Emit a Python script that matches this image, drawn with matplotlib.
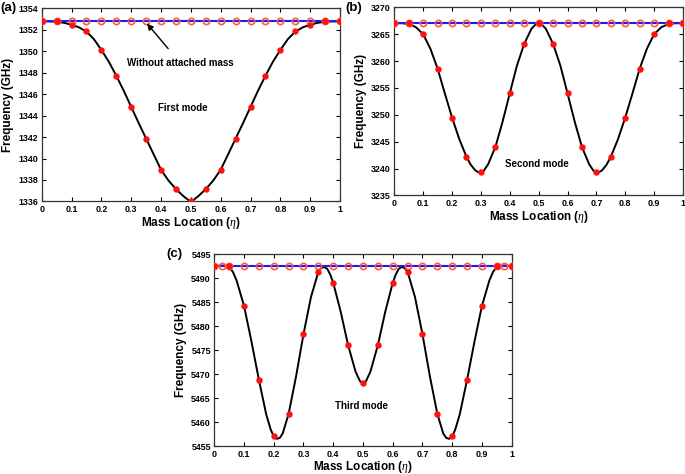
import matplotlib
matplotlib.use("Agg")
import matplotlib.pyplot as plt

plt.rcParams['font.family'] = ['Liberation Sans', 'DejaVu Sans']
plt.rcParams['mathtext.fontset'] = 'custom'
plt.rcParams['mathtext.it'] = 'Liberation Serif:italic'

# ---------------- data ----------------
eta_dots = [0, 0.05, 0.1, 0.15, 0.2, 0.25, 0.3, 0.35, 0.4, 0.45, 0.5,
            0.55, 0.6, 0.65, 0.7, 0.75, 0.8, 0.85, 0.9, 0.95, 1.0]
eta_curve = [0, 0.025, 0.05, 0.075, 0.1, 0.125, 0.15, 0.175, 0.2, 0.225, 0.25,
             0.275, 0.3, 0.325, 0.35, 0.375, 0.4, 0.425, 0.45, 0.475, 0.5,
             0.525, 0.55, 0.575, 0.6, 0.625, 0.65, 0.675, 0.7, 0.725, 0.75,
             0.775, 0.8, 0.825, 0.85, 0.875, 0.9, 0.925, 0.95, 0.975, 1.0]

# Mode 1
f1_ref = 1352.75
f1_dots = [1352.75, 1352.75, 1352.45, 1351.85, 1350.1, 1347.7, 1344.8, 1341.85, 1338.95, 1337.15, 1336.0,
           1337.15, 1338.95, 1341.85, 1344.8, 1347.7, 1350.1, 1351.85, 1352.45, 1352.75, 1352.75]
f1_curve = [1352.75, 1352.75, 1352.72, 1352.62, 1352.45, 1352.2, 1351.8, 1351.1, 1350.1, 1349.0, 1347.7,
            1346.3, 1344.8, 1343.3, 1341.85, 1340.4, 1338.95, 1337.95, 1337.15, 1336.5, 1335.95,
            1336.5, 1337.15, 1337.95, 1338.95, 1340.4, 1341.85, 1343.3, 1344.8, 1346.3, 1347.7,
            1349.0, 1350.1, 1351.1, 1351.8, 1352.2, 1352.45, 1352.62, 1352.72, 1352.75, 1352.75]

# Mode 2
f2_ref = 3267.0
eta2_curve = [0, 0.025, 0.05, 0.075, 0.1, 0.125, 0.15, 0.175, 0.2, 0.225, 0.25,
              0.265, 0.28, 0.29, 0.3, 0.31, 0.325, 0.35, 0.375, 0.4, 0.425, 0.45, 0.475, 0.49, 0.5,
              0.51, 0.525, 0.55, 0.575, 0.6, 0.625, 0.65, 0.675, 0.69, 0.7, 0.71, 0.72, 0.735, 0.75,
              0.775, 0.8, 0.825, 0.85, 0.875, 0.9, 0.925, 0.95, 0.975, 1.0]
f2_dots = [3267.0, 3267.0, 3265.0, 3258.6, 3249.5, 3242.2, 3239.4, 3244.0, 3254.0, 3263.2, 3267.0,
           3263.2, 3254.0, 3244.0, 3239.4, 3242.2, 3249.5, 3258.6, 3265.0, 3267.0, 3267.0]
f2_curve = [3267.0, 3267.05, 3266.9, 3266.3, 3265.0, 3262.3, 3258.6, 3254.0, 3249.5, 3245.5, 3242.2,
            3240.7, 3239.7, 3239.35, 3239.3, 3239.6, 3240.8, 3244.0, 3248.7, 3254.0, 3259.2, 3263.2, 3266.0, 3266.85, 3267.0,
            3266.85, 3266.0, 3263.2, 3259.2, 3254.0, 3248.7, 3244.0, 3240.8, 3239.6, 3239.3, 3239.35, 3239.7, 3240.7, 3242.2,
            3245.5, 3249.5, 3254.0, 3258.6, 3262.3, 3265.0, 3266.3, 3266.9, 3267.05, 3267.0]

# Mode 3
f3_ref = 5492.5
eta3_ref = [0, 0.025, 0.05, 0.1, 0.15, 0.2, 0.25, 0.3, 0.35, 0.4, 0.45, 0.5,
            0.55, 0.6, 0.65, 0.7, 0.75, 0.8, 0.85, 0.9, 0.95, 0.975, 1.0]
f3_dots = [5492.5, 5492.5, 5484.2, 5468.8, 5457.0, 5461.7, 5478.3, 5491.3, 5489.0, 5476.0, 5468.2,
           5476.0, 5489.0, 5491.3, 5478.3, 5461.7, 5457.0, 5468.8, 5484.2, 5492.5, 5492.5]
eta3_curve = [0, 0.025, 0.04, 0.05, 0.0625, 0.075, 0.1, 0.125, 0.15, 0.175, 0.19, 0.2, 0.21, 0.22, 0.23, 0.25,
              0.275, 0.3, 0.325, 0.35, 0.36, 0.37, 0.38, 0.39, 0.4, 0.425, 0.45, 0.475, 0.49, 0.5,
              0.51, 0.525, 0.55, 0.575, 0.6, 0.61, 0.62, 0.63, 0.64, 0.65, 0.675, 0.7, 0.725, 0.75,
              0.77, 0.78, 0.79, 0.8, 0.81, 0.825, 0.85, 0.875, 0.9, 0.925, 0.9375, 0.95, 0.96, 0.975, 1.0]
f3_curve = [5492.5, 5492.6, 5492.55, 5492.3, 5491.3, 5489.5, 5484.2, 5476.8, 5468.8, 5461.5, 5458.4, 5457.0, 5456.5, 5456.7, 5457.6, 5461.7,
            5469.5, 5478.3, 5486.0, 5491.3, 5492.1, 5492.3, 5491.9, 5490.7, 5489.0, 5483.0, 5476.0, 5470.5, 5468.5, 5468.1,
            5468.5, 5470.5, 5476.0, 5483.0, 5489.0, 5490.7, 5491.9, 5492.3, 5492.1, 5491.3, 5486.0, 5478.3, 5469.5, 5461.7,
            5457.6, 5456.7, 5456.5, 5457.0, 5458.4, 5461.5, 5468.8, 5476.8, 5484.2, 5489.5, 5491.3, 5492.3, 5492.55, 5492.6, 5492.5]

panels = [
    dict(label='(a)', label_px=(0, 8), rect=[0.0609, 0.5749, 0.4355, 0.4082], ylim=(1336, 1354),
         yticks=list(range(1336, 1355, 2)),
         ref=f1_ref, ref_x=eta_dots, dots=f1_dots, curve_x=eta_curve, curve=f1_curve,
         mode='First mode', mode_xy=(0.474, 1344.7)),
    dict(label='(b)', label_px=(345, 8), rect=[0.5756, 0.5876, 0.4215, 0.3970], ylim=(3235, 3270),
         yticks=list(range(3235, 3271, 5)),
         ref=f2_ref, ref_x=eta_dots, dots=f2_dots, curve_x=eta2_curve, curve=f2_curve,
         mode='Second mode', mode_xy=(0.493, 3240.9)),
    dict(label='(c)', label_px=(166, 254), rect=[0.3128, 0.0590, 0.4342, 0.4051], ylim=(5455, 5495),
         yticks=list(range(5455, 5496, 5)),
         ref=f3_ref, ref_x=eta3_ref, dots=f3_dots, curve_x=eta3_curve, curve=f3_curve,
         mode='Third mode', mode_xy=(0.496, 5463.4)),
]

xticks = [0, 0.1, 0.2, 0.3, 0.4, 0.5, 0.6, 0.7, 0.8, 0.9, 1]
xticklabels = ['0', '0.1', '0.2', '0.3', '0.4', '0.5', '0.6', '0.7', '0.8', '0.9', '1']

W, H = 685, 474
fig = plt.figure(figsize=(W / 100, H / 100), dpi=100)

for p in panels:
    ax = fig.add_axes(p['rect'])
    ax.plot(p['curve_x'], p['curve'], color='black', lw=1.4, zorder=2)
    ax.plot(p['ref_x'], [p['ref']] * len(p['ref_x']), color='#1a1aff', lw=1.5,
            marker='o', ms=4.5, mfc='none', mec='#ff5a3c', mew=1.2, zorder=3)
    ax.plot(eta_dots, p['dots'], linestyle='none', marker='o', ms=3.6,
            mfc='#ff1010', mec='#ff1010', zorder=4)
    ax.set_xlim(0, 1)
    ax.set_ylim(*p['ylim'])
    ax.set_xticks(xticks)
    ax.set_xticklabels(xticklabels)
    ax.set_yticks(p['yticks'])
    ax.tick_params(direction='in', top=True, right=True, length=3, width=0.8,
                   labelsize=6.4, pad=2.5)
    for lbl in ax.get_xticklabels() + ax.get_yticklabels():
        lbl.set_fontweight('bold')
    for s in ax.spines.values():
        s.set_linewidth(0.9)
        s.set_color('#333333')
    ax.set_ylabel('Frequency (GHz)', fontsize=8.5, fontweight='bold', labelpad=3)
    ax.set_xlabel(r'Mass Location ($\eta$)', fontsize=8.5, fontweight='bold', labelpad=0.5)
    ax.text(p['mode_xy'][0], p['mode_xy'][1], p['mode'], fontsize=7, fontweight='bold',
            ha='center', va='center')
    fig.text(p['label_px'][0] / W, 1 - p['label_px'][1] / H, p['label'], fontsize=9.5,
             fontweight='bold', ha='left', va='center')
    if p['label'] == '(a)':
        ax.annotate('Without attached mass', xy=(0.35, f1_ref - 0.1), xytext=(0.464, 1348.9),
                    fontsize=7, fontweight='bold', ha='center', va='center',
                    arrowprops=dict(arrowstyle='-|>', color='black', lw=1.0,
                                    shrinkA=6, shrinkB=1, mutation_scale=9))

fig.savefig('out.png', dpi=100)
